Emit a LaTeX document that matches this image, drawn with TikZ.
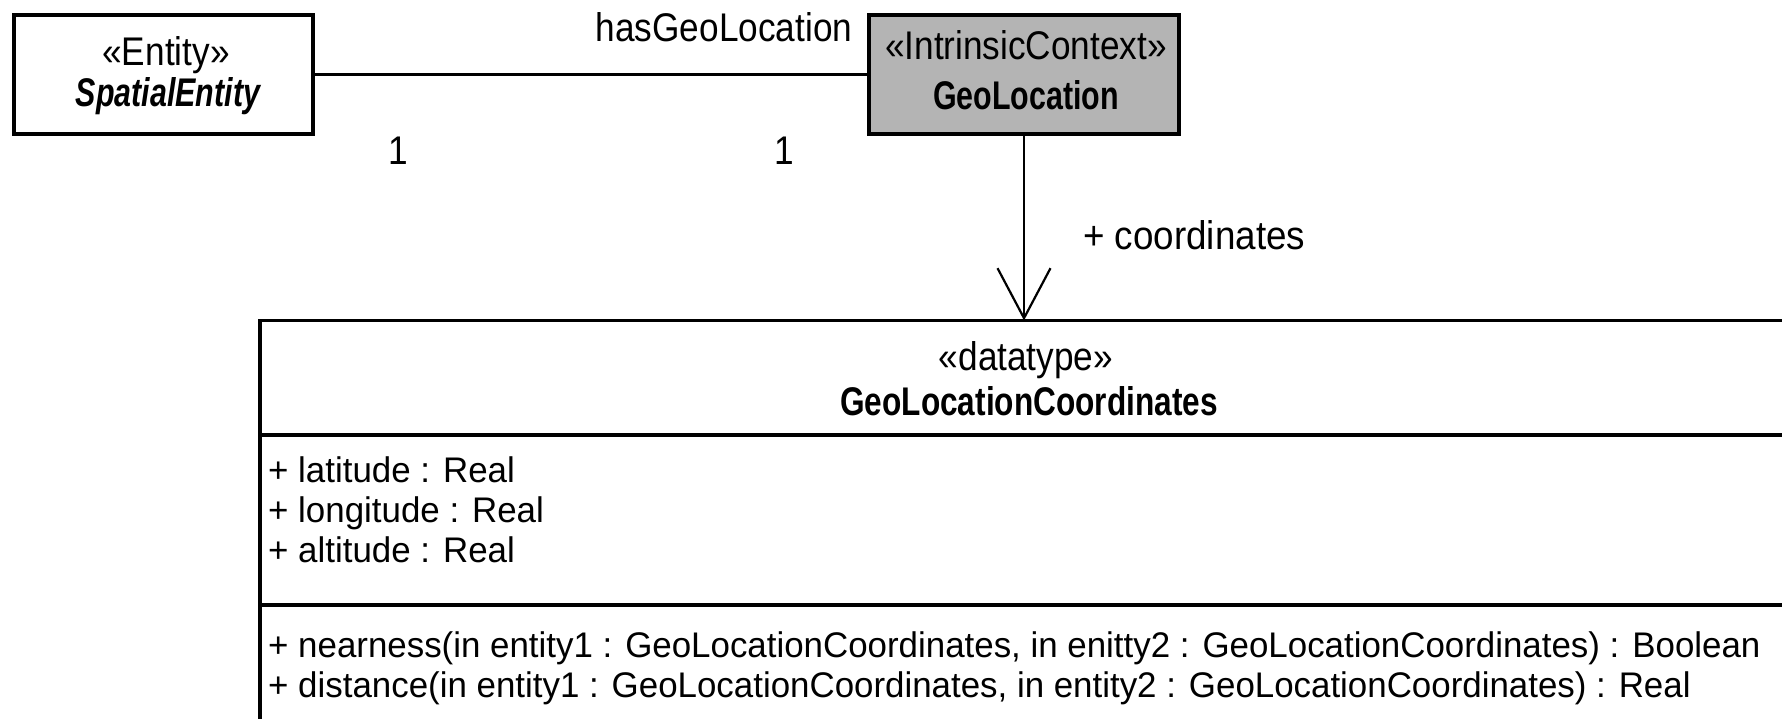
\documentclass[tikz,border=0pt]{standalone}
\usepackage{fontspec}
\setmainfont{Liberation Sans}
\newfontfamily\stereofont[FakeStretch=0.88]{Liberation Sans}
\newfontfamily\rolefont[FakeStretch=0.92]{Liberation Sans}
\newfontfamily\namefont[FakeStretch=0.76]{Liberation Sans}
\newfontfamily\typenamefont[FakeStretch=0.79]{Liberation Sans}
\newfontfamily\memberfont[FakeStretch=0.98]{Liberation Sans}
\usetikzlibrary{arrows.meta}
\definecolor{ctxgray}{RGB}{180,180,180}

\tikzset{
  classbox/.style={draw=black, line width=3.6pt, rectangle, inner sep=0pt, outer sep=0pt},
  conn/.style={draw=black, line width=2.2pt},
  sepline/.style={draw=black, line width=3.6pt},
  lbl/.style={inner sep=0pt, anchor=base, font=\stereofont\fontsize{40}{44}\selectfont},
  cname/.style={inner sep=0pt, anchor=base, font=\namefont\bfseries\fontsize{40}{44}\selectfont},
  member/.style={inner sep=0pt, anchor=base west, font=\memberfont\fontsize{35.6}{40}\selectfont}
}

\begin{document}
\begin{tikzpicture}[x=1pt, y=-1pt]
  \clip (0,0) rectangle (1782,719);
  \fill[white] (0,0) rectangle (1782,719);

  % SpatialEntity class
  \node[classbox, fill=white, minimum width=299pt, minimum height=119pt] (se) at (163.5,74.5) {};
  \node[lbl] (seSt) at (166,66) {«Entity»};
  \node[cname, font=\namefont\bfseries\itshape\fontsize{40}{44}\selectfont] (seNm) at (168,107) {SpatialEntity};

  % GeoLocation class
  \node[classbox, fill=ctxgray, minimum width=310pt, minimum height=119pt] (geo) at (1024,74.5) {};
  \node[lbl] (geoSt) at (1026,60) {«IntrinsicContext»};
  \node[cname] (geoNm) at (1026,110) {GeoLocation};

  % GeoLocationCoordinates datatype
  \node[classbox, fill=white, minimum width=1528pt, minimum height=430pt, anchor=north west] (gc) at (260,320.5) {};
  \node[lbl] (gcSt) at (1026,370) {«datatype»};
  \node[cname, font=\typenamefont\bfseries\fontsize{40}{44}\selectfont] (gcNm) at (1029,415) {GeoLocationCoordinates};
  \draw[sepline] (gc.north west |- 0,435) -- (gc.north east |- 0,435);
  \draw[sepline] (gc.north west |- 0,605) -- (gc.north east |- 0,605);
  \node[member] (a1) at (268,482) {+ latitude : Real};
  \node[member] (a2) at (268,522) {+ longitude : Real};
  \node[member] (a3) at (268,562) {+ altitude : Real};
  \node[member] (o1) at (268,657) {+ nearness(in entity1 : GeoLocationCoordinates, in enitty2 : GeoLocationCoordinates) : Boolean};
  \node[member] (o2) at (268,697) {+ distance(in entity1 : GeoLocationCoordinates, in entity2 : GeoLocationCoordinates) : Real};

  % association hasGeoLocation
  \draw[conn] (se.east) -- (geo.west);
  \node[lbl] (assoc) at (724,42) {hasGeoLocation};
  \node[lbl] (m1) at (398,165) {1};
  \node[lbl] (m2) at (784,165) {1};

  % navigable attribute coordinates
  \draw[conn, -{Straight Barb[length=50pt, width=53pt]}] (geo.south) -- (geo.south |- gc.north);
  \node[lbl, anchor=base west, font=\rolefont\fontsize{40}{44}\selectfont] (role) at (1083,250) {+ coordinates};
\end{tikzpicture}
\end{document}
